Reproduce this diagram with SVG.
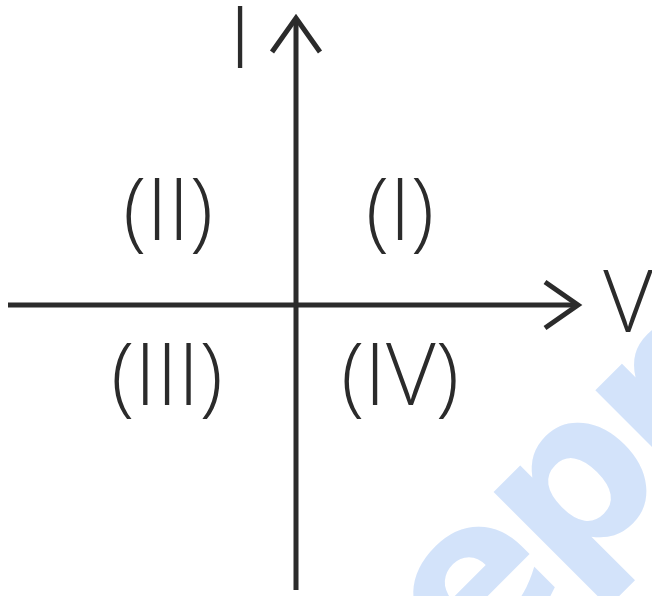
<svg xmlns="http://www.w3.org/2000/svg" width="652" height="596" viewBox="0 0 652 596">
  <style>
    .lbl { font-family: "Open Sans", "Liberation Sans", sans-serif; font-weight: 300; font-size: 86px; fill: #2b2b2b; text-anchor: middle; }
    .axis { stroke: #2b2b2b; stroke-width: 5; fill: none; }
    .wm { font-family: "DejaVu Sans", sans-serif; font-weight: bold; font-size: 215px; fill: #d3e3fa; letter-spacing: -10px; }
  </style>
  <rect width="652" height="596" fill="#ffffff"/>
  <g id="watermark">
    <text class="wm" transform="translate(468,684) rotate(-45)">epr</text>
  </g>
  <g id="connectors">
    <line class="axis" x1="296" y1="18" x2="296" y2="590"/>
    <line class="axis" x1="8" y1="305" x2="578" y2="305"/>
    <polyline class="axis" points="272,52 296,18 320,52"/>
    <polyline class="axis" points="545,282 578,305 545,328"/>
  </g>
  <g id="label-I-axis"><text class="lbl" x="240" y="68">I</text></g>
  <g id="label-V-axis"><text class="lbl" x="628" y="332">V</text></g>
  <g id="quadrant-I"><text class="lbl" x="400" y="240">(I)</text></g>
  <g id="quadrant-II"><text class="lbl" x="168" y="240">(II)</text></g>
  <g id="quadrant-III"><text class="lbl" x="167" y="405">(III)</text></g>
  <g id="quadrant-IV"><text class="lbl" x="400" y="405">(IV)</text></g>
</svg>
